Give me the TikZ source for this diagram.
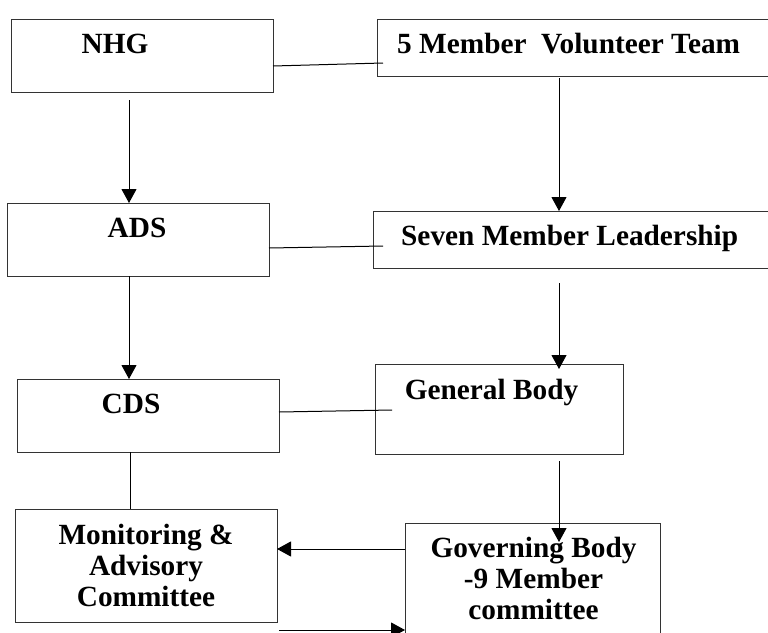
\documentclass[tikz,border=0pt]{standalone}
\usepackage{fontspec}
\setmainfont{Liberation Serif}
\usetikzlibrary{calc,arrows.meta}
\begin{document}
\begin{tikzpicture}[x=1pt,y=-1pt,>={Triangle[width=15pt,length=14pt]},
        box/.style={draw=black!80,line width=1pt,inner sep=0pt,outer sep=0pt},
        txt/.style={font=\bfseries\fontsize{29.3}{31}\selectfont,inner sep=0pt,align=center},
        link/.style={draw=black,line width=1pt}]
    \useasboundingbox (0,0) rectangle (768,632);
    % left column
    \node[box,minimum width=262,minimum height=73] (nhg) at (142,55.5) {};
    \node[box,minimum width=262,minimum height=73] (ads) at (138,239.5) {};
    \node[box,minimum width=262,minimum height=73] (cds) at (148,415.5) {};
    \node[box,minimum width=262,minimum height=113] (mon) at (146,565.5) {};
    % right column
    \node[box,minimum width=413,minimum height=57] (vol) at (583.5,47.5) {};
    \node[box,minimum width=417,minimum height=57] (lead) at (581.5,239.5) {};
    \node[box,minimum width=248,minimum height=90] (gen) at (499,409) {};
    \node[box,minimum width=255,minimum height=137] (gov) at (532.5,591.5) {};
    % texts
    \node[txt,anchor=base] (nhgt) at (115,53) {NHG};
    \node[txt,anchor=base] (adst) at (137,237) {ADS};
    \node[txt,anchor=base] (cdst) at (131,413) {CDS};
    \node[txt,anchor=base west] (volt) at (397,53) {5 Member\ \ Volunteer Team};
    \node[txt,anchor=base west] (leadt) at (401,245) {Seven Member Leadership};
    \node[txt,anchor=base] (gent) at (491.5,399) {General Body};
    \node[txt,anchor=north] (mont) at (146,524) {Monitoring \&\\Advisory\\Committee};
    \node[txt,anchor=north] (govt) at (533.5,537) {Governing Body\\-9 Member\\committee};
    % connectors
    \draw[link] ($(nhg.east)+(0,10.5)$) -- ($(vol.west)+(6,15.5)$);
    \draw[link] ($(ads.east)+(0,8.5)$) -- ($(lead.west)+(10,6.5)$);
    \draw[link] ($(cds.east)+(0,-3.5)$) -- ($(gen.west)+(17,1)$);
    \draw[link,->] ($(nhg.south)+(-13,8)$) -- ($(ads.north)+(-9,0)$);
    \draw[link,->] ($(ads.south)+(-9,0)$) -- ($(cds.north)+(-19,0)$);
    \draw[link] ($(cds.south)+(-18,0)$) -- ($(mon.north)+(-16,0)$);
    \draw[link,->] ($(vol.south west)+(182,2)$) -- ($(lead.north west)+(186,0)$);
    \draw[link,->] ($(lead.south west)+(186,15)$) -- ($(gen.north)+(60,5)$);
    \draw[link,->] ($(gen.south)+(60,7)$) -- ($(gov.north)+(26.5,19)$);
    \draw[link,->] ($(gov.west)+(0,-42.5)$) -- ($(mon.east)+(0,-16.5)$);
    \draw[link,->] ($(mon.south east)+(2,8)$) -- ($(gov.west)+(0,38.5)$);
\end{tikzpicture}
\end{document}
